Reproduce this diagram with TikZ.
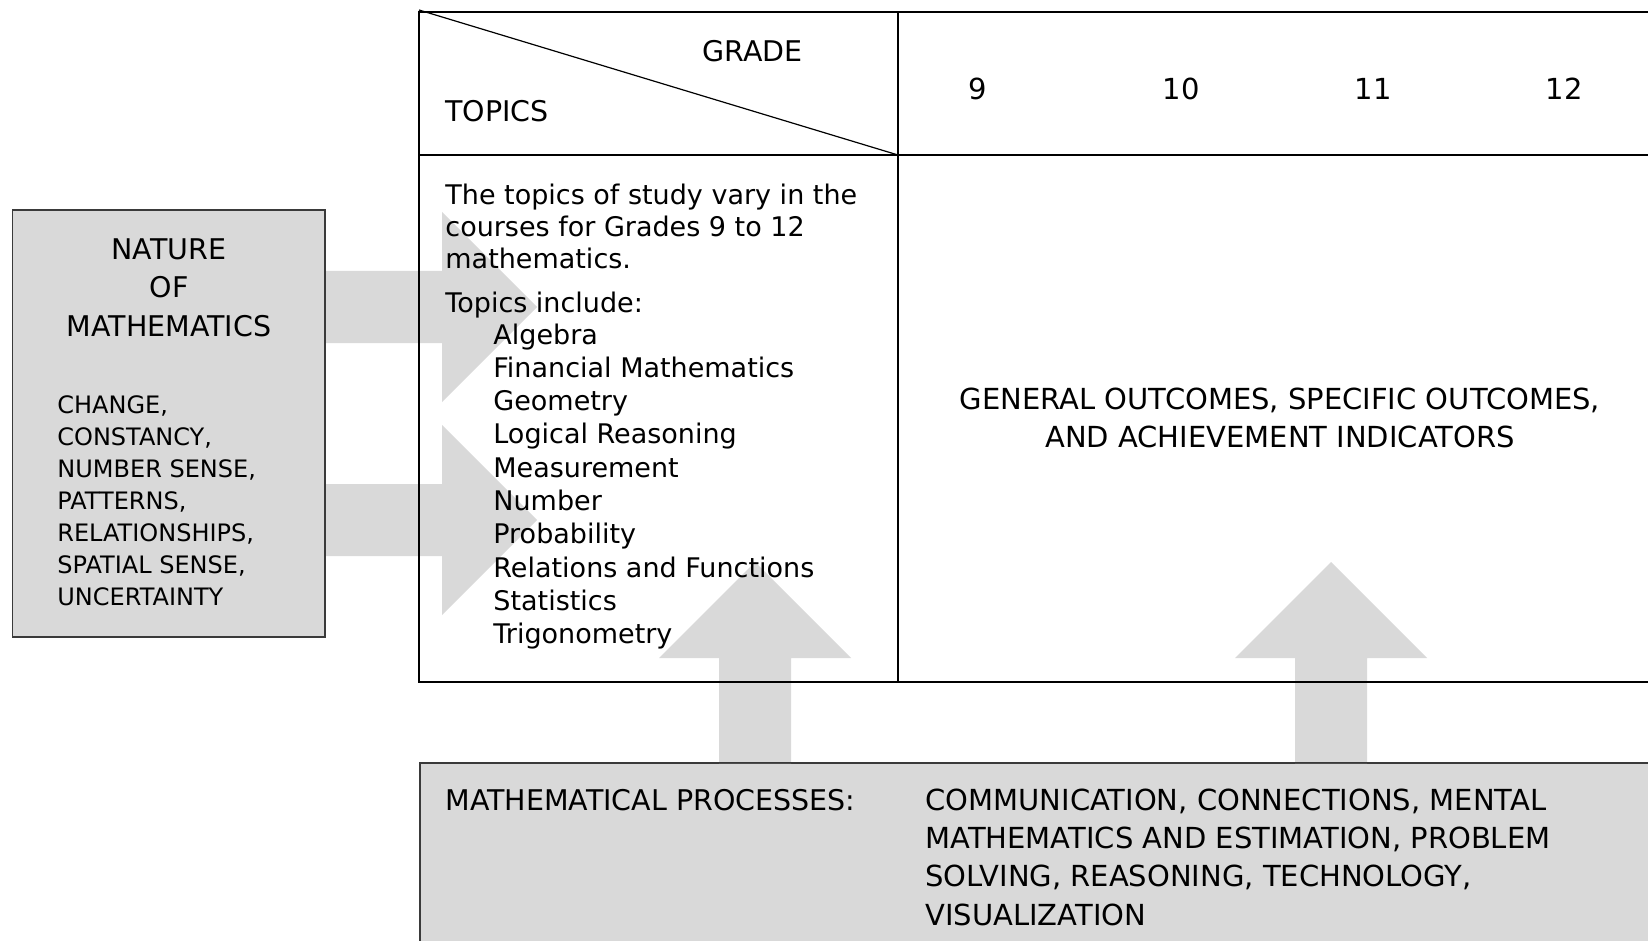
\documentclass[tikz,border=0pt]{standalone}
\usepackage{fontspec}
\setmainfont{DejaVu Sans}
\definecolor{boxgray}{HTML}{D9D9D9}
\definecolor{edgegray}{HTML}{3A3A3A}
\begin{document}
\begin{tikzpicture}[x=0.5pt,y=-0.5pt,
  tline/.style={line width=1.2pt, black},
  fat/.style={fill=boxgray, draw=none},
  graybox/.style={draw=edgegray, fill=boxgray, line width=0.55pt, inner sep=0pt},
  txt/.style={inner sep=0pt, anchor=base west},
  ctxt/.style={inner sep=0pt, anchor=base},
  fa/.style={font=\fontsize{13.5}{16}\selectfont},
  fb/.style={font=\fontsize{14.25}{17}\selectfont},
  fc/.style={font=\fontsize{14.5}{17}\selectfont},
  fd/.style={font=\fontsize{12}{14}\selectfont}]
\useasboundingbox (0,0) rectangle (1648,941);
\fill[white] (0,0) rectangle (1648,941);

% gray boxes
\node[graybox, minimum width=156.15pt, minimum height=213.5pt] (nature) at (168.85,423.5) {};
\node[graybox, minimum width=630pt, minimum height=100pt] (proc) at (1050,863) {};

% fat arrows (left, into topics)
\fill[fat] (325,271) -- (442,271) -- (442,212) -- (537,307) -- (442,402) -- (442,343) -- (325,343) -- cycle;
\fill[fat] (325,484) -- (442,484) -- (442,425) -- (537,520) -- (442,615) -- (442,556) -- (325,556) -- cycle;
% fat arrows (up, from processes)
\fill[fat] (719,763) -- (719,658) -- (659,658) -- (755,562) -- (851,658) -- (791,658) -- (791,763) -- cycle;
\fill[fat] (1295,763) -- (1295,658) -- (1235,658) -- (1331,562) -- (1427,658) -- (1367,658) -- (1367,763) -- cycle;

% redraw box borders over arrows
\draw[draw=edgegray, line width=0.55pt] (nature.north west) rectangle (nature.south east);
\draw[draw=edgegray, line width=0.55pt] (proc.south west) -- (proc.north west) -- (proc.north east);

% table
\coordinate (tl) at (419,12);
\coordinate (tr) at (1660,12);
\coordinate (hl) at (419,155);
\coordinate (hr) at (1660,155);
\coordinate (bl) at (419,682);
\coordinate (br) at (1660,682);
\coordinate (dt) at (898,12);
\coordinate (db) at (898,682);
\coordinate (dg) at (419,10);
\coordinate (dh) at (898,155);
\draw[tline] (tr) -- (tl) -- (bl) -- (br);
\draw[tline] (hl) -- (hr);
\draw[tline] (dt) -- (db);
\draw[line width=0.6pt] (dg) -- (dh);

% header texts
\node[txt, fb] (grade) at (702,62) {GRADE};
\node[txt, fb] (topics) at (445,122) {TOPICS};
\node[ctxt, fc] (g9) at (978,100) {9};
\node[ctxt, fc] (g10) at (1181,100) {10};
\node[ctxt, fc] (g11) at (1373,100) {11};
\node[ctxt, fc] (g12) at (1564,100) {12};

% topics cell
\node[txt, fa] (p1) at (445,205) {The topics of study vary in the};
\node[txt, fa] (p2) at (445,237) {courses for Grades 9 to 12};
\node[txt, fa] (p3) at (445,269) {mathematics.};
\node[txt, fa] (p4) at (445,312) {Topics include:};
\foreach \t [count=\i from 0] in {Algebra, Financial Mathematics, Geometry, Logical Reasoning, Measurement, Number, Probability, Relations and Functions, Statistics, Trigonometry}
  \node[txt, fa, name=topic\i] at (493,344+33.3*\i) {\t};

% outcomes cell
\node[ctxt, fc] (o1) at (1280,409) {GENERAL OUTCOMES, SPECIFIC OUTCOMES,};
\node[ctxt, fc] (o2) at (1280,447) {AND ACHIEVEMENT INDICATORS};

% nature of mathematics
\node[ctxt, fb] (n1) at (169,259) {NATURE};
\node[ctxt, fb] (n2) at (169,297) {OF};
\node[ctxt, fb] (n3) at (169,336) {MATHEMATICS};
\foreach \t [count=\i from 0] in {{CHANGE,}, {CONSTANCY,}, {NUMBER SENSE,}, {PATTERNS,}, {RELATIONSHIPS,}, {SPATIAL SENSE,}, UNCERTAINTY}
  \node[txt, fd, name=nat\i] at (57,413+32*\i) {\t};

% processes
\node[txt, fb] (mp) at (445,810) {MATHEMATICAL PROCESSES:};
\node[txt, fc] (m1) at (925,810) {COMMUNICATION, CONNECTIONS, MENTAL};
\node[txt, fc] (m2) at (925,848) {MATHEMATICS AND ESTIMATION, PROBLEM};
\node[txt, fc] (m3) at (925,886) {SOLVING, REASONING, TECHNOLOGY,};
\node[txt, fc] (m4) at (925,925) {VISUALIZATION};
\end{tikzpicture}
\end{document}
